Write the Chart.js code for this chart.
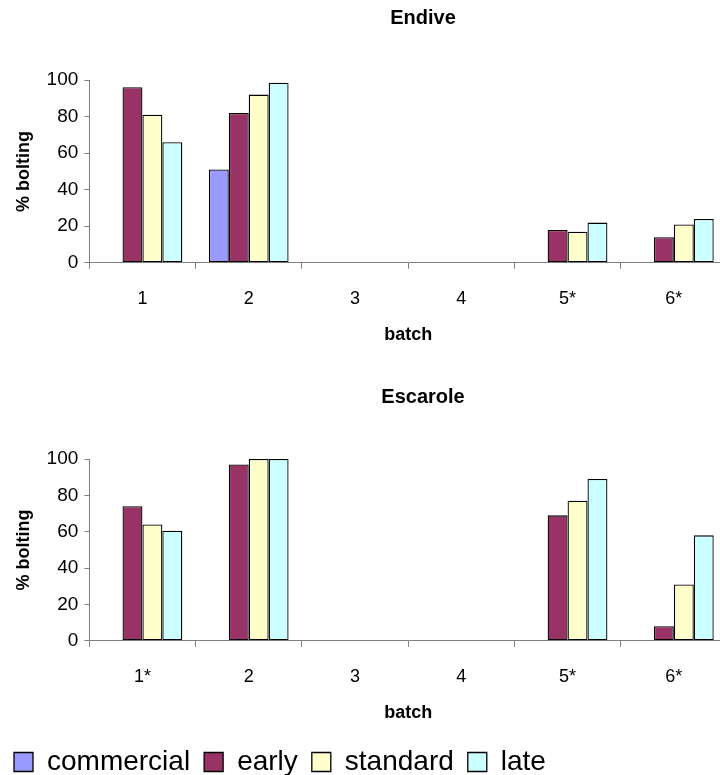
<!DOCTYPE html>
<html>
<head>
<meta charset="utf-8">
<script src="https://cdn.jsdelivr.net/npm/chart.js@4"></script>
<style>
  html, body { margin: 0; padding: 0; background: #fff; overflow: hidden; }
  #page { position: relative; width: 720px; height: 775px; overflow: hidden; }
  .box { position: absolute; left: 0; }
</style>
</head>
<body>
<div id="page">
  <div class="box" style="top:0"><canvas id="endive" width="846" height="353"></canvas></div>
  <div class="box" style="top:379px"><canvas id="escarole" width="846" height="407"></canvas></div>
</div>
<script>
// batch labels along the x-axis
const endiveBatches = ['1', '2', '3', '4', '5*', '6*'];
const escaroleBatches = ['1*', '2', '3', '4', '5*', '6*'];

// % bolting per batch, by selection
const endiveCommercial = [null, 51, null, null, null, null];
const endiveEarly = [96, 82, null, null, 18, 14];
const endiveStandard = [81, 92, null, null, 17, 21];
const endiveLate = [66, 98.5, null, null, 22, 24];

const escaroleCommercial = [null, null, null, null, null, null];
const escaroleEarly = [74, 97, null, null, 69, 8];
const escaroleStandard = [64, 100, null, null, 77, 31];
const escaroleLate = [60.5, 100, null, null, 89, 58];

const yTicks = [0, 20, 40, 60, 80, 100];

const FONT = "'Liberation Sans', Arial, sans-serif";
const colours = {
  commercial: '#9999FF',
  early: '#993366',
  standard: '#FFFFCC',
  late: '#CCFFFF'
};

function makeDatasets(commercial, early, standard, late) {
  const sets = [
    ['commercial', commercial],
    ['early', early],
    ['standard', standard],
    ['late', late]
  ];
  return sets.map(([name, values]) => ({
    label: name,
    data: values,
    backgroundColor: colours[name],
    borderColor: '#000',
    borderWidth: 1.3,
    borderSkipped: false,
    categoryPercentage: 0.75,
    barPercentage: 1.0
  }));
}

// the legend sits under the lower chart only; batchGap is the space below "batch"
function makeChart(ctx, title, labels, datasets, showLegend, batchGap) {
  return new Chart(ctx, {
    type: 'bar',
    data: { labels: labels, datasets: datasets },
    options: {
      responsive: false,
      animation: false,
      layout: { padding: 0 },
      plugins: {
        title: {
          display: true,
          text: title,
          color: '#000',
          font: { family: FONT, size: 20, weight: 'bold' },
          padding: { top: 6, bottom: 50 }
        },
        legend: {
          display: showLegend,
          position: 'bottom',
          align: 'start',
          labels: {
            color: '#000',
            font: { family: FONT, size: 28 },
            boxWidth: 19,
            boxHeight: 19,
            padding: 14
          }
        },
        tooltip: { enabled: false }
      },
      scales: {
        x: {
          grid: {
            display: true,
            drawOnChartArea: false,
            drawTicks: true,
            tickLength: 6,
            color: '#808080'
          },
          border: { display: true, color: '#808080', width: 1 },
          ticks: {
            color: '#000',
            font: { family: FONT, size: 18 },
            padding: 19.5
          },
          title: {
            display: true,
            text: 'batch',
            color: '#000',
            font: { family: FONT, size: 18, weight: 'bold' },
            // tick padding counts twice in the axis height, pull the title back up
            padding: { top: -5, bottom: batchGap }
          }
        },
        y: {
          min: 0,
          max: 100,
          afterBuildTicks: (scale) => {
            scale.ticks = yTicks.map(v => ({ value: v }));
          },
          grid: {
            display: true,
            drawOnChartArea: false,
            drawTicks: true,
            tickLength: 5,
            color: '#808080'
          },
          border: { display: true, color: '#808080', width: 1 },
          ticks: {
            color: '#000',
            font: { family: FONT, size: 19 },
            padding: 6
          },
          title: {
            display: true,
            text: '% bolting',
            color: '#000',
            font: { family: FONT, size: 18, weight: 'bold' },
            padding: { top: 13, bottom: 6 }
          }
        },
        // empty strip on the right, keeps the title centred over the whole sheet
        spare: {
          type: 'linear',
          position: 'right',
          display: true,
          grid: { display: false },
          border: { display: false },
          ticks: { display: false },
          afterFit: (scale) => { scale.width = 119; }
        }
      }
    }
  });
}

makeChart(
  document.getElementById('endive'),
  'Endive',
  endiveBatches,
  makeDatasets(endiveCommercial, endiveEarly, endiveStandard, endiveLate),
  false,
  7
);

makeChart(
  document.getElementById('escarole'),
  'Escarole',
  escaroleBatches,
  makeDatasets(escaroleCommercial, escaroleEarly, escaroleStandard, escaroleLate),
  true,
  10
);
</script>
</body>
</html>
